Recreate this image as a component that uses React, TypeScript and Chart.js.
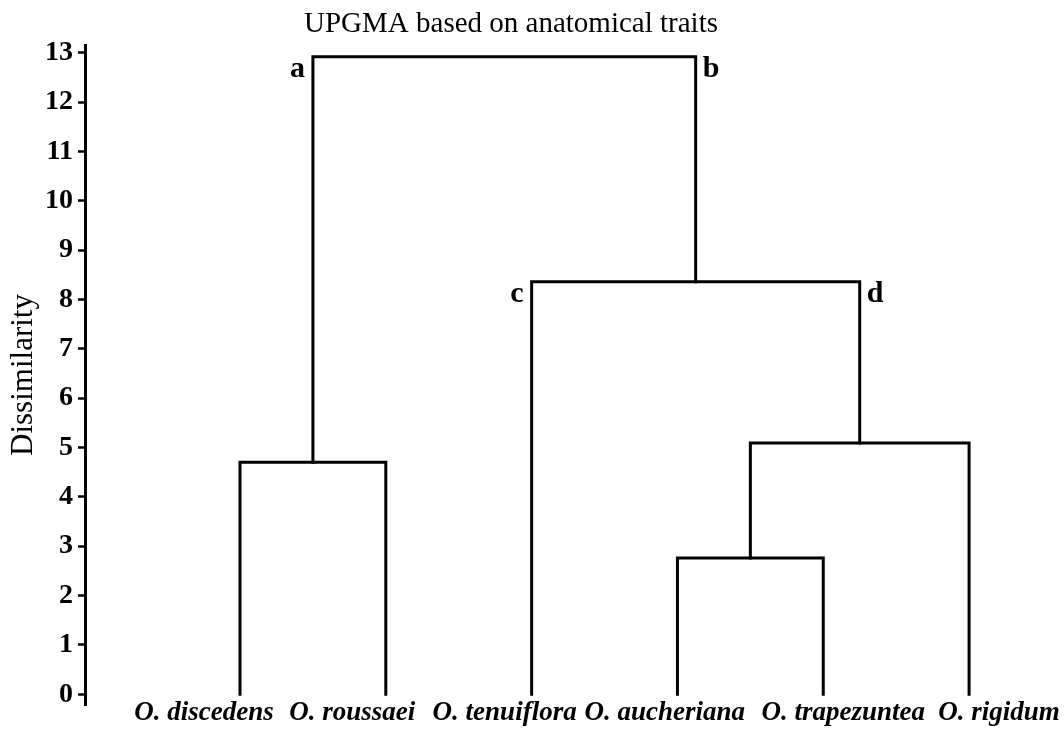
import React, { useEffect, useRef } from 'react';
import { Chart, registerables } from 'chart.js';

Chart.register(...registerables);

// ---- data ----
const leafNames = ['O. discedens', 'O. roussaei', 'O. tenuiflora', 'O. aucheriana', 'O. trapezuntea', 'O. rigidum'];
// merge steps: node ids 0-5 are leaves, merges become nodes 6, 7, 8, ...
const mergeLeft = [0, 3, 7, 2, 6];
const mergeRight = [1, 4, 5, 8, 9];
const mergeHeights = [4.7, 2.76, 5.09, 8.36, 12.92];
const branchLabels = ['a', 'b', 'c', 'd'];
const branchNodes = [6, 9, 2, 8];
const yTickValues = [0, 1, 2, 3, 4, 5, 6, 7, 8, 9, 10, 11, 12, 13];
const titleText = 'UPGMA based on anatomical traits';
const yTitleText = 'Dissimilarity';

const SERIF = "'Liberation Serif', 'Times New Roman', serif";

function buildTree() {
  const nx: number[] = leafNames.map((_, i) => i + 1);
  const nh: number[] = leafNames.map(() => 0);
  const parent: number[] = leafNames.map(() => -1);
  const segments: { x: number; y: number }[][] = [];
  mergeHeights.forEach((h, k) => {
    const l = mergeLeft[k];
    const r = mergeRight[k];
    const id = nx.length;
    nx.push((nx[l] + nx[r]) / 2);
    nh.push(h);
    parent.push(-1);
    parent[l] = id;
    parent[r] = id;
    segments.push([
      { x: nx[l], y: nh[l] },
      { x: nx[l], y: h },
      { x: nx[r], y: h },
      { x: nx[r], y: nh[r] },
    ]);
  });
  return { nx, nh, parent, segments };
}

export default function App() {
  const ref = useRef<HTMLCanvasElement>(null);
  useEffect(() => {
    if (!ref.current) return;
    const tree = buildTree();
    const leafLabelShift = [-36, -33.5, -27, -12.7, 20, 30];

    const overlay = {
      id: 'dendroText',
      afterDraw(chart: any) {
        const ctx = chart.ctx;
        const xs = chart.scales.x;
        const ys = chart.scales.y;
        ctx.save();
        ctx.fillStyle = '#000';
        // title
        ctx.font = `29px ${SERIF}`;
        ctx.textAlign = 'center';
        ctx.textBaseline = 'alphabetic';
        ctx.fillText(titleText, 511, 32);
        // branch letters
        ctx.font = `bold 30px ${SERIF}`;
        branchLabels.forEach((lab, i) => {
          const node = branchNodes[i];
          const p = tree.parent[node];
          const px = xs.getPixelForValue(tree.nx[node]);
          const py = ys.getPixelForValue(tree.nh[p]);
          const leftSide = tree.nx[node] < tree.nx[p];
          ctx.textAlign = leftSide ? 'right' : 'left';
          ctx.fillText(lab, leftSide ? px - 8 : px + 7, py + 20);
        });
        // leaf labels
        ctx.font = `bold italic 27px ${SERIF}`;
        ctx.textAlign = 'center';
        leafNames.forEach((name, i) => {
          const px = xs.getPixelForValue(tree.nx[i]);
          ctx.fillText(name, px + leafLabelShift[i], 720);
        });
        ctx.restore();
      },
    };

    const chart = new Chart(ref.current, {
      type: 'line',
      data: {
        datasets: tree.segments.map((seg) => ({
          data: seg,
          borderColor: '#000',
          borderWidth: 3,
          pointRadius: 0,
          tension: 0,
          fill: false,
          borderJoinStyle: 'miter' as const,
          borderCapStyle: 'square' as const,
        })),
      },
      options: {
        animation: false,
        responsive: false,
        layout: { padding: { top: 45, right: 0, bottom: 0, left: 0 } },
        plugins: { legend: { display: false }, tooltip: { enabled: false }, title: { display: false } },
        scales: {
          x: {
            type: 'linear',
            min: -0.063,
            max: 6.651,
            grid: { display: false },
            border: { display: false },
            ticks: { display: false },
            afterFit: (s: any) => {
              s.height = 24;
            },
          },
          y: {
            type: 'linear',
            min: -0.217,
            max: 13.156,
            afterBuildTicks: (s: any) => {
              s.ticks = yTickValues.map((v) => ({ value: v }));
            },
            afterFit: (s: any) => {
              s.width = 85;
            },
            grid: {
              drawOnChartArea: false,
              drawTicks: true,
              tickLength: 7,
              tickWidth: 2.5,
              tickColor: '#000',
            },
            border: { display: true, color: '#000', width: 3 },
            ticks: {
              color: '#000',
              padding: 5,
              font: { family: SERIF, size: 28, weight: 'bold' },
            },
            title: {
              display: true,
              text: yTitleText,
              color: '#000',
              padding: { top: 5, bottom: 0 },
              font: { family: SERIF, size: 31, weight: 'normal' },
            },
          },
        },
      },
      plugins: [overlay],
    } as any);
    return () => chart.destroy();
  }, []);

  return (
    <div style={{ position: 'fixed', left: 0, top: 0, width: 1064, height: 729, background: '#fff' }}>
      <canvas ref={ref} width={1064} height={729} />
    </div>
  );
}
